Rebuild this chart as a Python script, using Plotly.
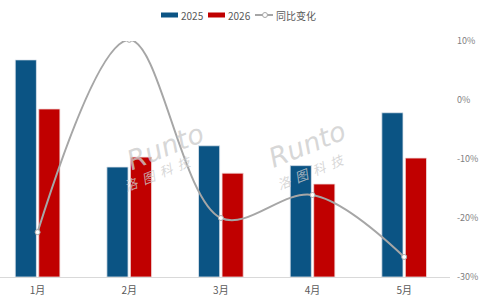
import plotly.graph_objects as go

months = ["1月", "2月", "3月", "4月", "5月"]
sales_2025 = [230, 116.5, 139, 118, 174]
sales_2026 = [178, 127, 110, 98.5, 126]
yoy = [-22.4, 10.2, -20.0, -16.1, -26.6]
yoy_ticks = [10, 0, -10, -20, -30]
yoy_labels = ["10%", "0%", "-10%", "-20%", "-30%"]
series_names = ["2025", "2026", "同比变化"]

blue = "#0b5484"
red = "#c00000"
gray = "#a6a6a6"
font = "Noto Sans CJK SC, Liberation Sans, sans-serif"

W, H = 480, 300
ML, MR, MT, MB = 0, 30, 41, 23
PW, PH = W - ML - MR, H - MT - MB


def px(x):
    return (x - ML) / PW


def py(y):
    return (H - MB - y) / PH


fig = go.Figure()
fig.add_trace(go.Bar(x=months, y=sales_2025, name=series_names[0], showlegend=False,
                     marker=dict(color=blue, line=dict(color="#dfe6ee", width=0.8))))
fig.add_trace(go.Bar(x=months, y=sales_2026, name=series_names[1], showlegend=False,
                     marker=dict(color=red, line=dict(color="#f0dada", width=0.8))))
fig.add_trace(go.Scatter(x=months, y=yoy, name=series_names[2], yaxis="y2", mode="lines+markers", showlegend=False,
                         line=dict(color=gray, width=2, shape="spline", smoothing=1.0),
                         marker=dict(symbol="circle", size=5, color="white", line=dict(color=gray, width=1))))

ann = []
wm = "rgba(205,205,205,0.8)"
sp = "&nbsp;&nbsp;"
cn = sp.join(["洛", "图", "科", "技"])
for (x, y, t, s, fam) in [(120, 146, "Runto", 27, "DejaVu Sans, sans-serif"),
                          (118, 173, cn, 13, font),
                          (352, 144, "Runto", 27, "DejaVu Sans, sans-serif"),
                          (350, 171, cn, 13, font)]:
    ann.append(dict(x=px(x), y=py(y), xref="paper", yref="paper", text=t, showarrow=False,
                    textangle=-22, font=dict(size=s, color=wm, family=fam, style="italic")))

# manual legend
shapes = []
ly = 15
shapes.append(dict(type="rect", xref="paper", yref="paper", x0=px(161), x1=px(178), y0=py(17.5), y1=py(12.5),
                   fillcolor=blue, line=dict(width=0)))
shapes.append(dict(type="rect", xref="paper", yref="paper", x0=px(208), x1=px(225), y0=py(17.5), y1=py(12.5),
                   fillcolor=red, line=dict(width=0)))
shapes.append(dict(type="line", xref="paper", yref="paper", x0=px(255), x1=px(273), y0=py(ly), y1=py(ly),
                   line=dict(color=gray, width=2)))
shapes.append(dict(type="circle", xref="paper", yref="paper", x0=px(262.5), x1=px(267.5), y0=py(17.5), y1=py(12.5),
                   fillcolor="white", line=dict(color=gray, width=1)))
for (x, t) in [(179, series_names[0]), (226, series_names[1]), (274, series_names[2])]:
    ann.append(dict(x=px(x), y=py(ly), xref="paper", yref="paper", text=t, showarrow=False,
                    xanchor="left", yanchor="middle", font=dict(size=10, color="#595959", family=font)))

fig.update_layout(
    width=W, height=H,
    margin=dict(l=ML, r=MR, t=MT, b=MB),
    paper_bgcolor="white", plot_bgcolor="white",
    barmode="group", bargap=0.487, bargroupgap=0.1,
    font=dict(family=font, color="#7f7f7f", size=10),
    showlegend=False,
    xaxis=dict(range=[-0.41, 4.5], showline=True, linecolor="#d9d9d9", linewidth=1,
               ticks="", tickfont=dict(size=10, color="#595959"), showgrid=False, ticklabelstandoff=4),
    yaxis=dict(range=[0, 250], visible=False, showgrid=False),
    yaxis2=dict(range=[-30, 10], overlaying="y", side="right", tickvals=yoy_ticks, ticktext=yoy_labels,
                showgrid=False, zeroline=False, showline=False, tickfont=dict(size=9, color="#7f7f7f"),
                ticklabelstandoff=6),
    annotations=ann,
    shapes=shapes,
)
fig.write_html("out.html")
